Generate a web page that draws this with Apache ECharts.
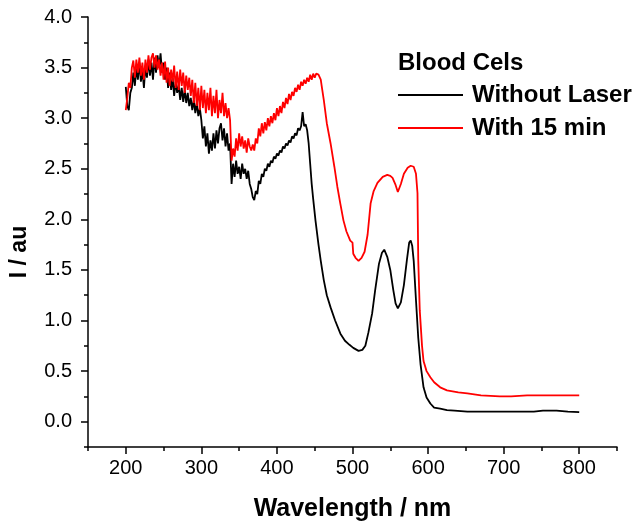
<!DOCTYPE html>
<html>
<head>
<meta charset="utf-8">
<script src="https://cdn.jsdelivr.net/npm/echarts@6/dist/echarts.min.js"></script>
<style>
html,body{margin:0;padding:0;background:#fff}
#chart{width:643px;height:527px}
</style>
</head>
<body>
<div id="chart"></div>
<script>
// Absorption spectra of blood cells, with and without laser exposure
const wlBlack = [200,202,204,206,208,210,212,214,216,218,220,222,224,226,228,230,232,234,236,238,240,242,244,246,248,250,252,254,256,258,260,262,264,266,268,270,272,274,276,278,280,282,284,286,288,290,292,294,296,298,300,302,304,306,308,310,312,314,316,318,320,322,324,326,328,330,332,334,336,338,340,342,344,346,348,350,352,354,356,358,360,362,364,366,368,370,372,374,376,378,380,382,384,386,388,390,392,394,396,398,400,402,404,406,408,410,412,414,416,418,420,422,424,426,428,430,432,434,436,438,440,442,444,446,448,451,455,458,462,466,471,477,484,490,496,501,508,513,517,521,526,530,535,539,542,546,550,554,557,560,564,568,572,575,577,579,581,584,587,590,594,598,603,608,616,625,635,652,700,740,752,770,785,800];
const ivBlack = [3.31,3.12,3.08,3.25,3.30,3.45,3.32,3.50,3.38,3.55,3.36,3.48,3.30,3.52,3.40,3.58,3.42,3.55,3.38,3.60,3.45,3.62,3.50,3.64,3.45,3.55,3.38,3.50,3.30,3.45,3.28,3.40,3.22,3.36,3.25,3.33,3.18,3.30,3.16,3.28,3.15,3.25,3.12,3.20,3.08,3.18,3.05,3.15,3.02,3.10,2.98,2.80,2.92,2.72,2.85,2.65,2.78,2.68,2.85,2.70,2.88,2.75,2.90,2.95,2.78,2.90,2.72,2.85,2.68,2.75,2.35,2.55,2.42,2.58,2.45,2.52,2.40,2.55,2.45,2.50,2.40,2.48,2.35,2.30,2.22,2.19,2.28,2.25,2.38,2.35,2.45,2.42,2.50,2.48,2.55,2.52,2.58,2.56,2.62,2.60,2.65,2.63,2.68,2.66,2.72,2.70,2.75,2.73,2.78,2.76,2.82,2.80,2.85,2.83,2.90,2.88,2.92,3.06,2.92,2.94,2.88,2.75,2.55,2.35,2.20,1.99,1.75,1.59,1.40,1.25,1.13,1.00,0.87,0.80,0.76,0.73,0.70,0.71,0.75,0.88,1.07,1.30,1.56,1.67,1.70,1.63,1.50,1.30,1.17,1.12,1.18,1.35,1.60,1.77,1.79,1.74,1.59,1.20,0.83,0.57,0.34,0.24,0.18,0.14,0.13,0.115,0.11,0.10,0.10,0.10,0.11,0.11,0.10,0.095];

const wlRed = [200,202,204,206,208,210,212,214,216,218,220,222,224,226,228,230,232,234,236,238,240,242,244,246,248,250,252,254,256,258,260,262,264,266,268,270,272,274,276,278,280,282,284,286,288,290,292,294,296,298,300,302,304,306,308,310,312,314,316,318,320,322,324,326,328,330,332,334,336,338,340,342,344,346,348,350,352,354,356,358,360,362,364,366,368,370,372,374,376,378,380,382,384,386,388,390,392,394,396,398,400,402,404,406,408,410,412,414,416,418,420,422,424,426,428,430,432,434,436,438,440,442,444,446,448,450,452,455,458,460,462,466,471,476,480,484,488,492,497,500,501,504,508,512,516,520,524,528,533,540,546,550,553,557,560,564,568,573,577,581,584,586,587,589,592,594,598,603,608,616,625,640,652,670,695,710,731,760,800];
const ivRed = [3.08,3.20,3.35,3.30,3.50,3.57,3.40,3.58,3.45,3.60,3.42,3.55,3.38,3.58,3.45,3.62,3.48,3.60,3.64,3.50,3.62,3.48,3.58,3.42,3.55,3.38,3.56,3.35,3.50,3.32,3.48,3.36,3.52,3.30,3.46,3.28,3.48,3.32,3.45,3.25,3.42,3.28,3.40,3.22,3.38,3.15,3.35,3.12,3.30,3.08,3.32,3.10,3.28,3.05,3.25,3.08,3.30,3.02,3.22,3.05,3.28,3.00,3.18,3.05,3.25,3.02,3.15,3.00,3.10,2.98,2.58,2.70,2.62,2.80,2.68,2.85,2.72,2.82,2.70,2.78,2.66,2.80,2.72,2.68,2.74,2.68,2.80,2.75,2.90,2.82,2.95,2.85,2.96,2.88,3.00,2.92,3.02,2.95,3.05,2.98,3.10,3.02,3.12,3.05,3.16,3.10,3.20,3.14,3.24,3.18,3.26,3.22,3.30,3.26,3.33,3.28,3.36,3.32,3.38,3.34,3.40,3.36,3.43,3.38,3.44,3.40,3.44,3.43,3.38,3.28,3.18,2.95,2.75,2.52,2.32,2.15,1.99,1.88,1.79,1.77,1.66,1.62,1.59,1.62,1.68,1.85,2.16,2.28,2.36,2.42,2.44,2.43,2.41,2.34,2.27,2.35,2.45,2.51,2.53,2.52,2.45,2.26,1.60,1.10,0.75,0.60,0.50,0.44,0.39,0.34,0.31,0.29,0.28,0.26,0.25,0.25,0.26,0.26,0.26];

const seriesNames = ['Without Laser', 'With 15 min'];
const seriesColors = ['#000000', '#ff0000'];
const legendHeading = 'Blood Cels';
const xTitle = 'Wavelength / nm';
const yTitle = 'I / au';

// axis extents: the frame runs a half step beyond the labelled range
const X_MIN = 150, X_MAX = 850, X_MINOR = 50;
const X_LAB_MIN = 200, X_LAB_MAX = 800, X_MAJOR = 100;
const Y_MIN = -0.25, Y_MAX = 4.0, Y_MINOR = 0.25;
const Y_LAB_MIN = 0, Y_LAB_MAX = 4.0, Y_MAJOR = 0.5;

const FONT = '"Liberation Sans", Arial, Helvetica, sans-serif';
const G = { left: 88, top: 17, width: 529, height: 430 };
const pxX = v => G.left + (v - X_MIN) / (X_MAX - X_MIN) * G.width;
const pxY = v => G.top + (Y_MAX - v) / (Y_MAX - Y_MIN) * G.height;
// second grid covers only the labelled range and carries the long ticks + labels
const G2 = {
  left: pxX(X_LAB_MIN), top: pxY(Y_LAB_MAX),
  width: pxX(X_LAB_MAX) - pxX(X_LAB_MIN), height: pxY(Y_LAB_MIN) - pxY(Y_LAB_MAX)
};
const xOffset2 = (G.top + G.height) - (G2.top + G2.height);
const yOffset2 = G2.left - G.left;

const zip = (xs, ys) => xs.map((x, i) => [x, ys[i]]);

const axisLineStyle = { color: '#000', width: 1.5 };

const chart = echarts.init(document.getElementById('chart'), null, { renderer: 'canvas' });
chart.setOption({
  animation: false,
  backgroundColor: '#fff',
  grid: [
    { left: G.left, top: G.top, width: G.width, height: G.height },
    { left: G2.left, top: G2.top, width: G2.width, height: G2.height }
  ],
  xAxis: [
    {
      gridIndex: 0, type: 'value', min: X_MIN, max: X_MAX, interval: X_MINOR,
      axisLine: { show: true, onZero: false, lineStyle: axisLineStyle },
      axisTick: { show: true, length: 4, lineStyle: axisLineStyle },
      axisLabel: { show: false }, splitLine: { show: false }
    },
    {
      gridIndex: 1, type: 'value', min: X_LAB_MIN, max: X_LAB_MAX, interval: X_MAJOR,
      position: 'bottom', offset: xOffset2,
      axisLine: { show: false, onZero: false },
      axisTick: { show: true, length: 7, lineStyle: axisLineStyle },
      axisLabel: { show: true, margin: 11, fontSize: 20, color: '#000', fontFamily: FONT },
      splitLine: { show: false }
    }
  ],
  yAxis: [
    {
      gridIndex: 0, type: 'value', min: Y_MIN, max: Y_MAX, interval: Y_MINOR,
      axisLine: { show: true, onZero: false, lineStyle: axisLineStyle },
      axisTick: { show: true, length: 4, lineStyle: axisLineStyle },
      axisLabel: { show: false }, splitLine: { show: false }
    },
    {
      gridIndex: 1, type: 'value', min: Y_LAB_MIN, max: Y_LAB_MAX, interval: Y_MAJOR,
      position: 'left', offset: yOffset2,
      axisLine: { show: false, onZero: false },
      axisTick: { show: true, length: 7, lineStyle: axisLineStyle },
      axisLabel: {
        show: true, margin: 16, fontSize: 20, color: '#000', fontFamily: FONT,
        formatter: v => v.toFixed(1)
      },
      splitLine: { show: false }
    }
  ],
  legend: {
    orient: 'vertical', left: 393, top: 78, padding: 5,
    data: seriesNames, icon: 'rect', itemWidth: 65, itemHeight: 2, itemGap: 9,
    textStyle: { fontSize: 24, fontWeight: 'bold', color: '#000', fontFamily: FONT, lineHeight: 24,
                 padding: [0, 0, 0, 4] }
  },
  graphic: [
    {
      type: 'text', x: 398, y: 63,
      style: { text: legendHeading, fontSize: 24, fontWeight: 'bold', fill: '#000', fontFamily: FONT,
               textAlign: 'left', textVerticalAlign: 'middle' }
    },
    {
      type: 'text', x: (G.left + G.left + G.width) / 2, y: 509,
      style: { text: xTitle, fontSize: 25, fontWeight: 'bold', fill: '#000', fontFamily: FONT,
               textAlign: 'center', textVerticalAlign: 'middle' }
    },
    {
      type: 'text', x: 20, y: 252, rotation: Math.PI / 2,
      style: { text: yTitle, fontSize: 23, fontWeight: 'bold', fill: '#000', fontFamily: FONT,
               textAlign: 'center', textVerticalAlign: 'middle' }
    }
  ],
  series: [
    {
      name: seriesNames[0], type: 'line', xAxisIndex: 0, yAxisIndex: 0,
      data: zip(wlBlack, ivBlack), showSymbol: false, smooth: false,
      lineStyle: { color: seriesColors[0], width: 1.8 }, itemStyle: { color: seriesColors[0] }
    },
    {
      name: seriesNames[1], type: 'line', xAxisIndex: 0, yAxisIndex: 0,
      data: zip(wlRed, ivRed), showSymbol: false, smooth: false,
      lineStyle: { color: seriesColors[1], width: 1.8 }, itemStyle: { color: seriesColors[1] }
    }
  ]
});
</script>
</body>
</html>
